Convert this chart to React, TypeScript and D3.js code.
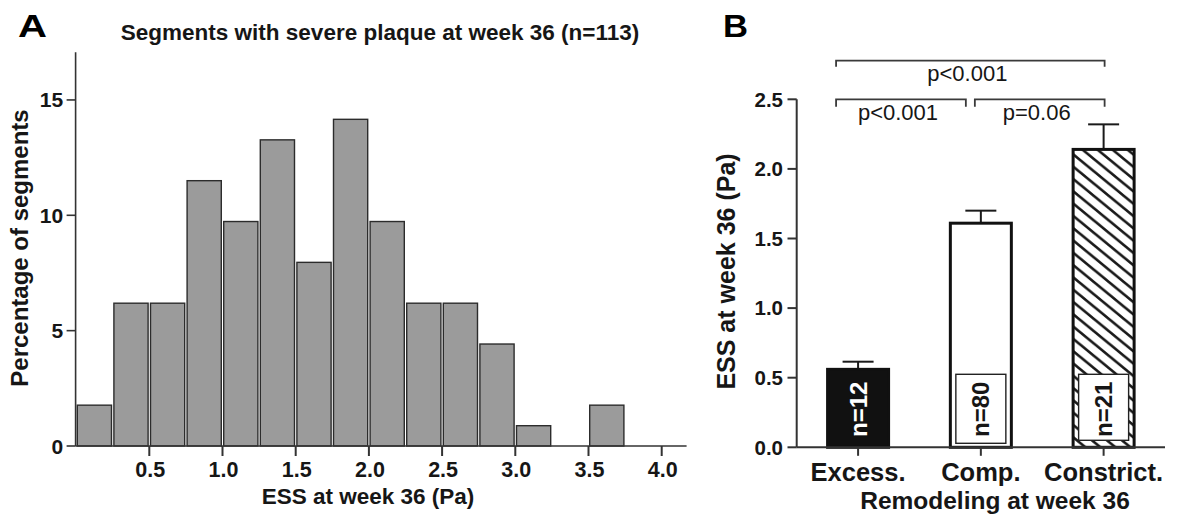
import * as d3 from "d3";

// Panel A: histogram of ESS, n=113 segments
const binStarts = [0, 0.25, 0.5, 0.75, 1.0, 1.25, 1.5, 1.75, 2.0, 2.25, 2.5, 2.75, 3.0, 3.25, 3.5, 3.75];
const binWidth = 0.25;
const percentSegments = [1.77, 6.19, 6.19, 11.5, 9.73, 13.27, 7.96, 14.16, 9.73, 6.19, 6.19, 4.42, 0.88, 0, 1.77, 0];
const xTicksA = [0.5, 1.0, 1.5, 2.0, 2.5, 3.0, 3.5, 4.0];
const yTicksA = [0, 5, 10, 15];

// Panel B: mean ESS by remodeling group
const groups = ["Excess.", "Comp.", "Constrict."];
const meanEss = [0.56, 1.61, 2.14];
const semEss = [0.055, 0.09, 0.18];
const groupN = ["n=12", "n=80", "n=21"];
const yTicksB = [0, 0.5, 1.0, 1.5, 2.0, 2.5];
const comparisons = [
  { from: 0, to: 2, label: "p<0.001", level: 1 },
  { from: 0, to: 1, label: "p<0.001", level: 0 },
  { from: 1, to: 2, label: "p=0.06", level: 0 },
];

const FONT = "'Liberation Sans', Arial, Helvetica, sans-serif";
const INK = "#161616";
const AXIS = "#333";

function PanelA() {
  const x = d3.scaleLinear().domain([0, 4]).range([76.1, 661.7]);
  const y = d3.scaleLinear().domain([0, 17]).range([446, 53.8]);
  const x0 = x(0) - 0.5;
  const xEnd = x(4.17);

  return (
    <g>
      <text x={18} y={36.7} fontSize={31} fontWeight="bold" textLength={29} lengthAdjust="spacingAndGlyphs" fill="#000">A</text>
      <text x={380} y={40} fontSize={22.5} fontWeight="bold" textAnchor="middle" fill={INK}>
        Segments with severe plaque at week 36 (n=113)
      </text>

      {binStarts.map((b, i) =>
        percentSegments[i] > 0 ? (
          <rect
            key={i}
            x={x(b) + 1.2}
            y={y(percentSegments[i])}
            width={x(b + binWidth) - x(b) - 2.4}
            height={y(0) - y(percentSegments[i])}
            fill="#9b9b9b"
            stroke="#2c2c2c"
            strokeWidth={1.4}
          />
        ) : null
      )}

      {/* axes */}
      <line x1={x0} x2={x0} y1={y(17.07)} y2={y(0)} stroke={AXIS} strokeWidth={1.6} />
      <line x1={x0} x2={xEnd} y1={y(0)} y2={y(0)} stroke={AXIS} strokeWidth={1.6} />
      {yTicksA.map((t) => (
        <g key={t}>
          <line x1={x0 - 9} x2={x0} y1={y(t)} y2={y(t)} stroke={AXIS} strokeWidth={1.6} />
          <text x={x0 - 12.5} y={y(t) + 7.5} fontSize={21} fontWeight="bold" textAnchor="end" fill={INK}>
            {t}
          </text>
        </g>
      ))}
      {xTicksA.map((t) => (
        <g key={t}>
          <line x1={x(t)} x2={x(t)} y1={y(0)} y2={y(0) + 10} stroke={AXIS} strokeWidth={2} />
          <text x={x(t) + 1} y={477.3} fontSize={21.5} fontWeight="bold" textAnchor="middle" fill={INK}>
            {t.toFixed(1)}
          </text>
        </g>
      ))}
      <text x={368} y={504} fontSize={22.5} fontWeight="bold" textAnchor="middle" fill={INK}>
        ESS at week 36 (Pa)
      </text>
      <text
        transform="translate(27.5,248) rotate(-90)"
        fontSize={24}
        fontWeight="bold"
        textAnchor="middle"
        fill={INK}
      >
        Percentage of segments
      </text>
    </g>
  );
}

function PanelB() {
  const x = d3.scaleBand<string>().domain(groups).range([796.7, 1165]).paddingInner(0.5).paddingOuter(0.25);
  const y = d3.scaleLinear().domain([0, 2.5]).range([447.3, 99.3]);
  const cx = (i: number) => (x(groups[i]) as number) + x.bandwidth() / 2;
  const barW = 61;
  const fills = ["#111", "#fff", "url(#hatch)"];

  return (
    <g>
      <defs>
        <pattern id="hatch" patternUnits="userSpaceOnUse" width={15} height={12.3}>
          <rect width={15} height={12.3} fill="#fff" />
          <path
            d="M-3,-2.46 L18,14.76 M-18,-2.46 L3,14.76 M12,-2.46 L33,14.76"
            stroke="#1a1a1a"
            strokeWidth={2.6}
          />
        </pattern>
      </defs>

      <text x={723} y={36.7} fontSize={31} fontWeight="bold" textLength={25} lengthAdjust="spacingAndGlyphs" fill="#000">B</text>

      {/* significance brackets */}
      {comparisons.map((c, i) => {
        const by = y(2.5) - c.level * 38.6;
        const x1 = cx(c.from) + (c.from === 0 ? -22 : -6);
        const x2 = cx(c.to) + (c.to === 2 ? 1 : -15);
        const leg = c.level === 1 ? 6 : 7.4;
        return (
          <g key={i}>
            <path
              d={`M${x1},${by + leg} V${by} H${x2} V${by + leg}`}
              fill="none"
              stroke="#3a3a3a"
              strokeWidth={1.8}
            />
            <text x={(x1 + x2) / 2 - 3} y={by + 20.5} fontSize={22} textAnchor="middle" fill={INK}>
              {c.label}
            </text>
          </g>
        );
      })}

      {/* error bars */}
      {groups.map((g, i) => (
        <g key={g}>
          <line x1={cx(i)} x2={cx(i)} y1={y(meanEss[i])} y2={y(meanEss[i] + semEss[i])} stroke="#1a1a1a" strokeWidth={2} />
          <line x1={cx(i) - 15.5} x2={cx(i) + 15.5} y1={y(meanEss[i] + semEss[i])} y2={y(meanEss[i] + semEss[i])} stroke="#1a1a1a" strokeWidth={2} />
        </g>
      ))}

      {/* bars */}
      {groups.map((g, i) => (
        <rect
          key={g}
          x={cx(i) - barW / 2}
          y={y(meanEss[i])}
          width={barW}
          height={y(0) - y(meanEss[i])}
          fill={fills[i]}
          stroke="#111"
          strokeWidth={3}
        />
      ))}

      {/* n labels */}
      {groups.map((g, i) => (
        <g key={g}>
          {i > 0 && (
            <rect
              x={cx(i) - 25}
              y={y(0) - 73}
              width={50}
              height={i === 2 ? 66 : 69}
              fill="#fff"
              stroke="#222"
              strokeWidth={1.4}
            />
          )}
          <text
            transform={`translate(${cx(i)},${y(0) - 38}) rotate(-90)`}
            y={8.5}
            fontSize={24}
            fontWeight="bold"
            textAnchor="middle"
            fill={i === 0 ? "#fff" : INK}
          >
            {groupN[i]}
          </text>
        </g>
      ))}

      {/* axes */}
      <line x1={796.7} x2={796.7} y1={y(2.5)} y2={y(0)} stroke={AXIS} strokeWidth={2} />
      <line x1={796.7} x2={1165} y1={y(0)} y2={y(0)} stroke={AXIS} strokeWidth={2} />
      {yTicksB.map((t) => (
        <g key={t}>
          <line x1={787.5} x2={796.7} y1={y(t)} y2={y(t)} stroke={AXIS} strokeWidth={2} />
          <text x={783} y={y(t) + 7.3} fontSize={20.5} fontWeight="bold" textAnchor="end" fill={INK}>
            {t.toFixed(1)}
          </text>
        </g>
      ))}
      {groups.map((g, i) => (
        <g key={g}>
          <line x1={cx(i)} x2={cx(i)} y1={y(0)} y2={y(0) + 8.5} stroke={AXIS} strokeWidth={2} />
          <text x={cx(i)} y={481} fontSize={25.5} fontWeight="bold" textAnchor="middle" fill={INK}>
            {g}
          </text>
        </g>
      ))}
      <text x={995} y={509} fontSize={24.5} fontWeight="bold" textAnchor="middle" fill={INK}>
        Remodeling at week 36
      </text>
      <text transform="translate(735,271.5) rotate(-90)" fontSize={25} fontWeight="bold" textAnchor="middle" fill={INK}>
        ESS at week 36 (Pa)
      </text>
    </g>
  );
}

export default function App() {
  return (
    <svg
      width={1186}
      height={521}
      viewBox="0 0 1186 521"
      style={{ position: "absolute", left: 0, top: 0, background: "#fff" }}
      fontFamily={FONT}
    >
      <rect width={1186} height={521} fill="#fff" />
      <PanelA />
      <PanelB />
    </svg>
  );
}
